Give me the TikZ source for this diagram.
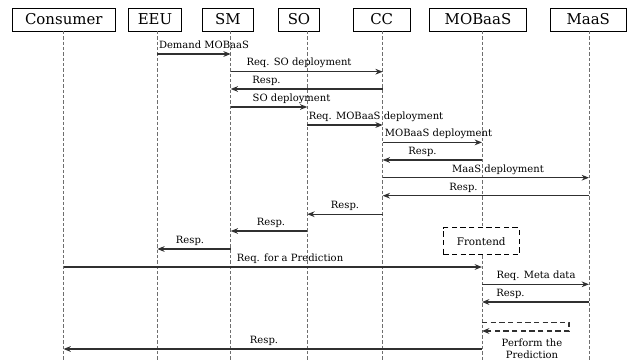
\documentclass[tikz,border=0pt]{standalone}
\usepackage{fontspec}
\setmainfont{DejaVu Serif}
\usetikzlibrary{arrows.meta,positioning}
\definecolor{ink}{HTML}{303030}
\definecolor{lifegray}{HTML}{6E6E6E}

\begin{document}
\begin{tikzpicture}[x=0.75pt,y=-0.75pt,>={Stealth[length=5.5pt,width=4.3pt]},
  actor/.style={draw,line width=0.6pt,minimum height=17.25pt,inner sep=0pt,
    font=\fontsize{11.2}{13}\selectfont},
  life/.style={lifegray,line width=0.55pt,dash pattern=on 2.5pt off 1.5pt},
  msg/.style={->,ink,line width=0.9pt},
  lbl/.style={anchor=base,inner sep=0pt,font=\fontsize{7.5}{9}\selectfont}]
\useasboundingbox (0,0) rectangle (628,360);
% participants
\node[actor,minimum width=77.8pt] (consumer) at (63.8,19.5) {Consumer};
\node[actor,minimum width=40pt] (eeu) at (155,19.5) {EEU};
\node[actor,minimum width=38pt] (sm) at (228,19.5) {SM};
\node[actor,minimum width=30.5pt] (so) at (299,19.5) {SO};
\node[actor,minimum width=42.5pt] (cc) at (381.7,19.5) {CC};
\node[actor,minimum width=73pt] (mobaas) at (478,19.5) {MOBaaS};
\node[actor,minimum width=56.5pt] (maas) at (588.3,19.5) {MaaS};
% lifelines, the MOBaaS one is cut by the Frontend box
\coordinate (l-con) at (63.5,31);
\coordinate (l-eeu) at (157.3,31);
\coordinate (l-sm) at (230.7,31);
\coordinate (l-so) at (307.3,31);
\coordinate (l-cc) at (382.7,31);
\coordinate (l-mob) at (482,31);
\coordinate (l-maas) at (589,31);
\node[draw,dashed,line width=0.6pt,dash pattern=on 4pt off 2.5pt,minimum width=56.8pt,
  minimum height=20.25pt,inner sep=0pt,font=\fontsize{7.8}{9}\selectfont]
  (fe) at (481.2,241.3) {Frontend};
\draw[life] (l-con) -- (l-con |- 0,360);
\draw[life] (l-eeu) -- (l-eeu |- 0,360);
\draw[life] (l-sm) -- (l-sm |- 0,360);
\draw[life] (l-so) -- (l-so |- 0,360);
\draw[life] (l-cc) -- (l-cc |- 0,360);
\draw[life] (l-mob) -- (l-mob |- fe.north);
\draw[life] (l-mob |- fe.south) -- (l-mob |- 0,360);
\draw[life] (l-maas) -- (l-maas |- 0,360);
% deployment
\draw[msg] (l-eeu |- 0,54) -- (l-sm |- 0,54);
\node[lbl] (t1) at (204,48.3) {Demand MOBaaS};
\draw[msg] (l-sm |- 0,71.7) -- (l-cc |- 0,71.7);
\node[lbl] (t2) at (299,66) {Req. SO deployment};
\draw[msg] (l-cc |- 0,89) -- (l-sm |- 0,89);
\node[lbl] (t3) at (266.5,83.3) {Resp.};
\draw[msg] (l-sm |- 0,107) -- (l-so |- 0,107);
\node[lbl] (t4) at (291.5,101.3) {SO deployment};
\draw[msg] (l-so |- 0,125) -- (l-cc |- 0,125);
\node[lbl] (t5) at (376,119.3) {Req. MOBaaS deployment};
\draw[msg] (l-cc |- 0,142.4) -- (l-mob |- 0,142.4);
\node[lbl] (t6) at (438.5,136.7) {MOBaaS deployment};
\draw[msg] (l-mob |- 0,160) -- (l-cc |- 0,160);
\node[lbl] (t7) at (422.5,154.3) {Resp.};
\draw[msg] (l-cc |- 0,177.7) -- (l-maas |- 0,177.7);
\node[lbl] (t8) at (498,172) {MaaS deployment};
\draw[msg] (l-maas |- 0,195.7) -- (l-cc |- 0,195.7);
\node[lbl] (t9) at (463.5,190) {Resp.};
\draw[msg] (l-cc |- 0,214.2) -- (l-so |- 0,214.2);
\node[lbl] (t10) at (345,208.5) {Resp.};
\draw[msg] (l-so |- 0,231) -- (l-sm |- 0,231);
\node[lbl] (t11) at (271,225.3) {Resp.};
\draw[msg] (l-sm |- 0,249) -- (l-eeu |- 0,249);
\node[lbl] (t12) at (190,243.3) {Resp.};
% prediction
\draw[msg] (l-con |- 0,267) -- (l-mob |- 0,267);
\node[lbl] (t13) at (290,261.3) {Req. for a Prediction};
\draw[msg] (l-mob |- 0,284.3) -- (l-maas |- 0,284.3);
\node[lbl] (t14) at (536,278.6) {Req. Meta data};
\draw[msg] (l-maas |- 0,302) -- (l-mob |- 0,302);
\node[lbl] (t15) at (510.5,296.3) {Resp.};
\coordinate (loop) at (569,322.3);
\draw[msg,dash pattern=on 4pt off 2.5pt] (l-mob |- loop) -- (loop) -- (loop |- 0,331)
  -- (l-mob |- 0,331);
\node[lbl,anchor=center,align=center] (t16) at (532,349) {Perform the\\Prediction};
\draw[msg] (l-mob |- 0,349) -- (l-con |- 0,349);
\node[lbl] (t17) at (264,343.3) {Resp.};
\end{tikzpicture}
\end{document}
